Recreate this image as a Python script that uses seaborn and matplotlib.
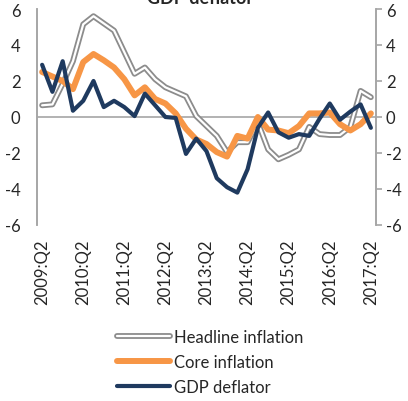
import numpy as np
import pandas as pd
import seaborn as sns
import matplotlib.pyplot as plt
import matplotlib.patheffects as pe

# quarters 2009:Q2 .. 2017:Q2
quarters = [f"{y}:Q{q}" for y in range(2009, 2018) for q in range(1, 5)][1:34]

headline = [0.65, 0.7, 1.85, 3.1, 5.15, 5.6, 5.2, 4.8, 3.6, 2.4, 2.75, 2.1, 1.65,
            1.4, 1.15, 0.05, -0.5, -1.05, -1.95, -1.4, -1.4, -0.3, -1.8, -2.35,
            -2.1, -1.8, -0.55, -0.95, -1.0, -1.0, -0.55, 1.45, 1.1]
core = [2.5, 2.25, 2.0, 1.55, 3.05, 3.5, 3.15, 2.75, 2.1, 1.2, 1.65, 1.0, 0.75,
        0.2, -0.65, -1.25, -1.5, -1.95, -2.2, -1.05, -1.2, 0.0, -0.7, -0.75,
        -0.9, -0.5, 0.2, 0.2, 0.25, -0.4, -0.75, -0.4, 0.2]
gdp_deflator = [2.9, 1.4, 3.1, 0.35, 0.9, 2.0, 0.55, 0.9, 0.55, 0.05, 1.3, 0.65, 0.0,
                -0.05, -2.05, -1.2, -1.9, -3.4, -3.9, -4.2, -2.9, -0.6, 0.25, -0.85,
                -1.15, -0.95, -1.05, -0.1, 0.75, -0.15, 0.3, 0.7, -0.6]
yticks = [-6, -4, -2, 0, 2, 4, 6]

sns.set_style("white")
plt.rcParams['font.family'] = ['Lato', 'DejaVu Sans']

df = pd.DataFrame({"x": np.arange(len(quarters)), "Headline inflation": headline,
                   "Core inflation": core, "GDP deflator": gdp_deflator})

fig = plt.figure(figsize=(4.08, 4.02), dpi=100)
ax = fig.add_axes([37 / 408, 1 - 226 / 402, (376 - 37) / 408, 216 / 402])

ax.axhline(0, color="#a6a6a6", lw=1.2, zorder=1)

sns.lineplot(data=df, x="x", y="Headline inflation", ax=ax, color="white", lw=1.6,
             label="Headline inflation",
             path_effects=[pe.Stroke(linewidth=4.2, foreground="#8c8c8c"), pe.Normal()])
sns.lineplot(data=df, x="x", y="Core inflation", ax=ax, color="#F79646", lw=4.3,
             label="Core inflation")
sns.lineplot(data=df, x="x", y="GDP deflator", ax=ax, color="#1F3A5F", lw=3,
             label="GDP deflator")

ax.set_xlim(-0.5, len(quarters) - 0.5)
ax.set_ylim(-6, 6)
ax.set_yticks(yticks)
ax.set_yticklabels([str(v) for v in yticks])
ax.set_xticks(range(0, len(quarters), 4))
ax.set_xticklabels([quarters[i] for i in range(0, len(quarters), 4)], rotation=90)
ax.set_xlabel("")
ax.set_ylabel("")
ax.tick_params(axis="x", length=0, pad=10, labelsize=12)
ax.tick_params(axis="y", length=0, pad=12, labelsize=12)

# right-hand axis with the same scale
ax2 = ax.twinx()
ax2.set_ylim(-6, 6)
ax2.set_yticks(yticks)
ax2.set_yticklabels([str(v) for v in yticks])
ax2.tick_params(axis="y", length=4, width=1.2, color="#a6a6a6", pad=3, labelsize=12,
                direction="out")

for a in (ax, ax2):
    for side in ["top", "bottom"]:
        a.spines[side].set_visible(False)
    for side in ["left", "right"]:
        a.spines[side].set_color("#a6a6a6")
        a.spines[side].set_linewidth(1.2)

handles, labels = ax.get_legend_handles_labels()
ax.get_legend().remove()
fig.legend(handles, labels, loc="center left", bbox_to_anchor=(117 / 408, 1 - 363 / 402),
           frameon=False, fontsize=12, handlelength=3.2, handletextpad=0.2,
           labelspacing=0.55, borderpad=0, borderaxespad=0)

fig.text(200 / 408, 1 - 4 / 402, "GDP deflator", ha="center", va="baseline",
         fontsize=13, fontweight="bold")

fig.savefig("out.png", dpi=100)
